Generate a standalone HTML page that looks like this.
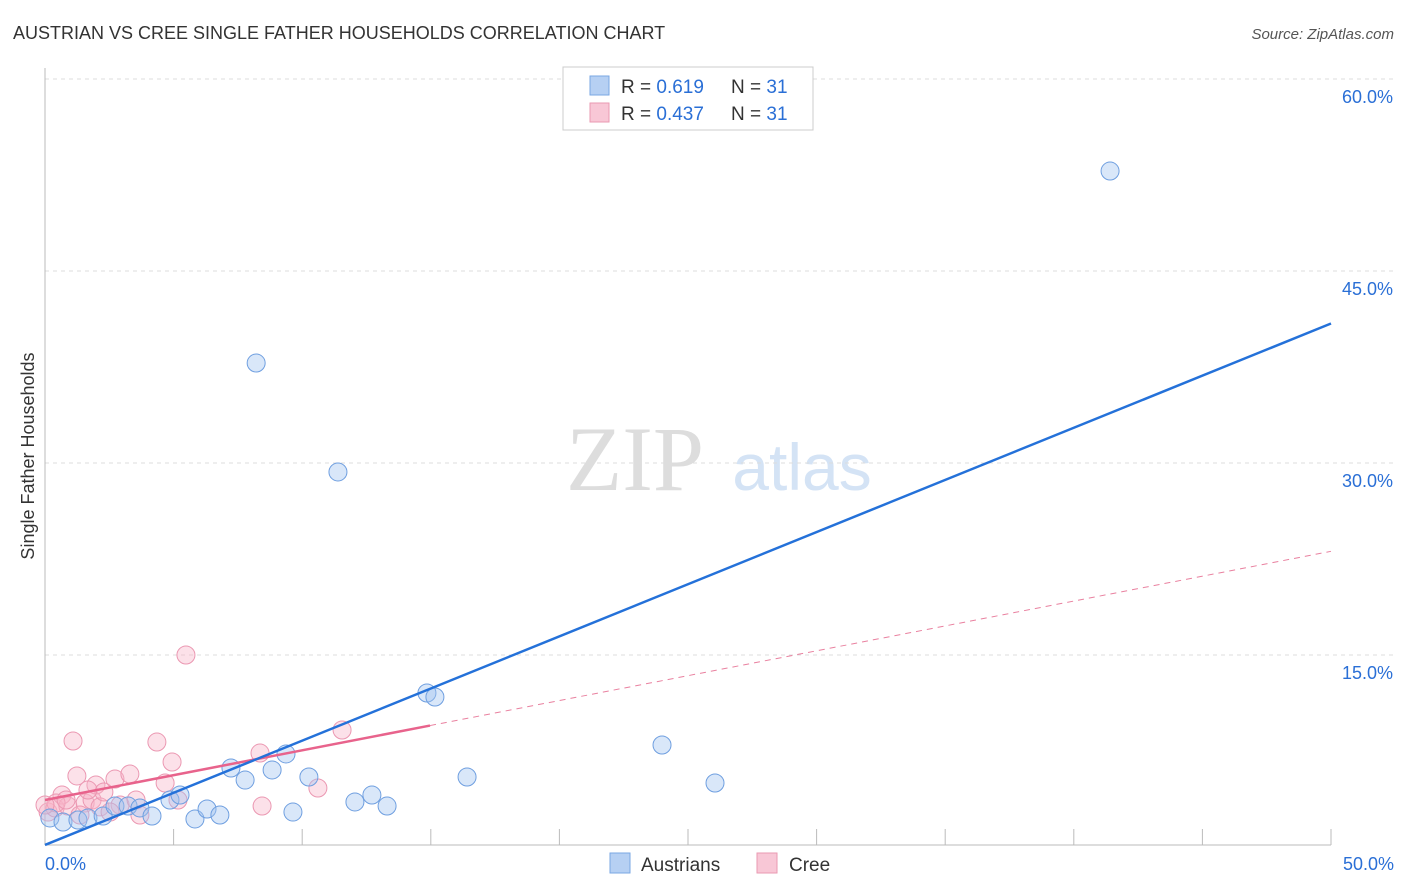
<!DOCTYPE html>
<html><head><meta charset="utf-8"><style>
body{margin:0;background:#fff;font-family:"Liberation Sans",sans-serif}
</style></head><body>
<svg id="chart" width="1406" height="892" style="display:block">
<text x="13" y="39" font-size="18" fill="#333">AUSTRIAN VS CREE SINGLE FATHER HOUSEHOLDS CORRELATION CHART</text>
<text x="1394" y="39" font-size="15" fill="#555" font-style="italic" text-anchor="end">Source: ZipAtlas.com</text>
<text x="34" y="456" font-size="18" fill="#333" text-anchor="middle" transform="rotate(-90 34 456)">Single Father Households</text>
<g><text x="635" y="490" font-size="92" fill="#ddd" font-family="Liberation Serif,serif" text-anchor="middle">ZIP</text><text x="802" y="490" font-size="66" fill="#d4e3f5" text-anchor="middle">atlas</text></g>
<g id="grid"></g><g id="marks"></g>
<g>
<rect x="563" y="67" width="250" height="63" fill="#fff" stroke="#ccc"/>
<rect x="590" y="76" width="19" height="19" fill="#b6d0f3" stroke="#7aa7e3"/>
<rect x="590" y="103" width="19" height="19" fill="#f8c7d6" stroke="#ea9ab2"/>
<text x="621" y="93" font-size="19" fill="#333">R = <tspan fill="#2a6fd6">0.619</tspan><tspan x="731">N = </tspan><tspan fill="#2a6fd6">31</tspan></text>
<text x="621" y="120" font-size="19" fill="#333">R = <tspan fill="#2a6fd6">0.437</tspan><tspan x="731">N = </tspan><tspan fill="#2a6fd6">31</tspan></text>
</g>
<g>
<rect x="610" y="853" width="20" height="20" fill="#b6d0f3" stroke="#7aa7e3"/>
<text x="641" y="871" font-size="19" fill="#333">Austrians</text>
<rect x="757" y="853" width="20" height="20" fill="#f8c7d6" stroke="#ea9ab2"/>
<text x="789" y="871" font-size="19" fill="#333">Cree</text>
</g>
</svg>
<script>
const yTicks=[15,30,45,60];
const yTickLabels=["15.0%","30.0%","45.0%","60.0%"];
const xTicks=[5,10,15,20,25,30,35,40,45,50];
const austriansX=[0.19,0.70,1.28,1.67,2.26,2.72,3.23,3.69,4.16,4.86,5.25,5.83,6.30,6.80,7.23,7.78,8.21,8.83,9.37,9.64,10.26,11.39,12.05,12.71,13.30,14.85,15.16,16.41,23.99,26.05,41.41];
const austriansY=[2.27,1.95,2.11,2.27,2.42,3.20,3.20,3.05,2.42,3.67,4.06,2.19,2.97,2.50,6.17,5.23,37.81,6.02,7.27,2.73,5.47,29.30,3.52,4.06,3.20,12.03,11.72,5.47,7.97,5.00,52.81];
const creeX=[0.12,0.39,0.66,0.89,1.09,1.24,1.56,1.83,1.98,2.14,2.29,2.72,2.92,3.30,3.54,3.69,4.35,4.67,4.94,5.17,5.48,8.36,8.44,10.61,11.55,0.43,0,1.36,2.53,1.67,0.82];
const creeY=[2.73,3.05,4.06,3.20,8.28,5.55,3.44,3.67,4.84,3.13,4.30,5.31,3.28,5.70,3.67,2.50,8.20,5.00,6.64,3.67,15.00,7.34,3.20,4.61,9.14,3.44,3.28,2.50,2.73,4.45,3.67];
const blueLine=[0.16,40.9];
const pinkLine=[3.67,23.1];
const pinkSolidEnd=14.97;
const NS="http://www.w3.org/2000/svg";
const sx=v=>45+v*25.72, sy=v=>847-v*12.8;
function mk(t,a,p){const e=document.createElementNS(NS,t);for(const k in a)e.setAttribute(k,a[k]);p.appendChild(e);return e;}
const g=document.getElementById('grid'),m=document.getElementById('marks');
yTicks.forEach((t,i)=>{
 const l=mk('line',{x1:45,x2:1394,y1:sy(t),y2:sy(t),stroke:'#ddd','stroke-dasharray':'4,4'},g);
 
 
 const tx=mk('text',{x:1393,y:sy(t)+24,'font-size':18,fill:'#2a6fd6','text-anchor':'end'},g);tx.textContent=yTickLabels[i];
 
 
});
mk('line',{x1:45,x2:45,y1:68,y2:845,stroke:'#bbb'},g);
mk('line',{x1:45,x2:1331,y1:845,y2:845,stroke:'#bbb'},g);
xTicks.forEach(t=>{const l=mk('line',{x1:sx(t),x2:sx(t),y1:829,y2:845,stroke:'#bbb'},g);
 
 });
const x0=mk('text',{x:45,y:870,'font-size':18,fill:'#2a6fd6'},g);x0.textContent='0.0%';


const x1=mk('text',{x:1394,y:870,'font-size':18,fill:'#2a6fd6','text-anchor':'end'},g);x1.textContent='50.0%';


creeX.forEach((x,i)=>{const c=mk('circle',{cx:sx(x),cy:sy(creeY[i]),r:9,fill:'rgba(248,180,200,0.4)',stroke:'#eb98b2','stroke-width':1},m);
 
 });
austriansX.forEach((x,i)=>{const c=mk('circle',{cx:sx(x),cy:sy(austriansY[i]),r:9,fill:'rgba(160,196,240,0.4)',stroke:'#6f9fe0','stroke-width':1},m);
 
 });
const pv=x=>pinkLine[0]+(pinkLine[1]-pinkLine[0])*x/50;
const pd=mk('line',{x1:sx(pinkSolidEnd),y1:sy(pv(pinkSolidEnd)),x2:sx(50),y2:sy(pinkLine[1]),stroke:'#e9809f','stroke-width':1,'stroke-dasharray':'6,5'},m);


const ps=mk('line',{x1:sx(0),y1:sy(pinkLine[0]),x2:sx(pinkSolidEnd),y2:sy(pv(pinkSolidEnd)),stroke:'#e8638c','stroke-width':2.5},m);


const bl=mk('line',{x1:sx(0),y1:sy(blueLine[0]),x2:sx(50),y2:sy(blueLine[1]),stroke:'#2471d9','stroke-width':2.5},m);


</script>
</body></html>
